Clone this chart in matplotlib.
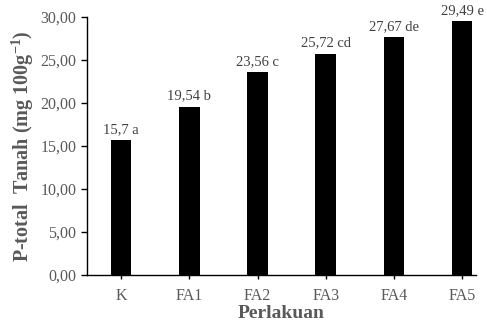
import matplotlib.pyplot as plt

perlakuan = ['K', 'FA1', 'FA2', 'FA3', 'FA4', 'FA5']
p_total = [15.70, 19.54, 23.56, 25.72, 27.67, 29.49]
label_bar = ['15,7 a', '19,54 b', '23,56 c', '25,72 cd', '27,67 de', '29,49 e']
y_ticks = [0, 5, 10, 15, 20, 25, 30]

plt.rcParams['font.family'] = ['Liberation Serif', 'DejaVu Serif']
plt.rcParams['mathtext.fontset'] = 'custom'
plt.rcParams['mathtext.rm'] = 'Liberation Serif'
plt.rcParams['mathtext.bf'] = 'Liberation Serif:bold'
gris = '#595959'

fig = plt.figure(figsize=(4.87, 3.25), dpi=100)
ax = fig.add_axes([0.1786, 0.1538, 0.7984, 0.7938])

pos = list(range(len(perlakuan)))
ax.bar(pos, p_total, width=0.3, color='black')

# Etiquettes au-dessus des barres
for x, v, txt in zip(pos, p_total, label_bar):
    ax.text(x, v + 0.5, txt, ha='center', va='bottom', fontsize=10.5, color='#404040')

ax.set_xlim(-0.5, 5.2)
ax.set_ylim(0, 30)
ax.set_yticks(y_ticks)
ax.set_yticklabels(['{:.2f}'.format(t).replace('.', ',') for t in y_ticks])
ax.set_xticks(pos)
ax.set_xticklabels(perlakuan)

ax.tick_params(axis='both', colors=gris, labelsize=11.5, direction='out', length=4, width=1)
ax.tick_params(axis='x', length=3, pad=6)
ax.tick_params(axis='both', color='black')
for s in ['top', 'right']:
    ax.spines[s].set_visible(False)
for s in ['left', 'bottom']:
    ax.spines[s].set_color('black')
    ax.spines[s].set_linewidth(1)

ax.set_ylabel(r'P-total  Tanah (mg 100g$^{\mathbf{-1}}$)', fontsize=14.5, fontweight='bold', color=gris, labelpad=3)
ax.set_xlabel('Perlakuan', fontsize=14, fontweight='bold', color=gris, labelpad=1)

fig.savefig('out.png', dpi=100)
